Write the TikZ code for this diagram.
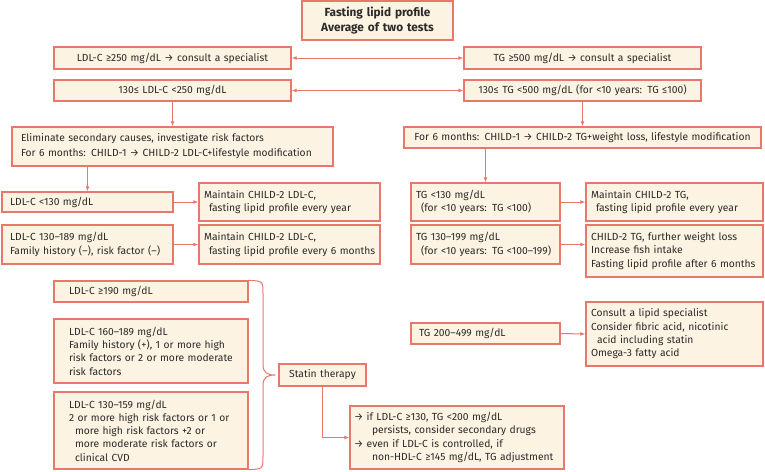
\documentclass[tikz,border=0pt]{standalone}
\usepackage{fontspec}
\setmainfont{Fira Sans}
\usetikzlibrary{arrows.meta}
\definecolor{bd}{HTML}{E9786C}
\definecolor{bg}{HTML}{FDF3E2}
\definecolor{tx}{HTML}{2A2A2A}
\newcommand{\fs}{\fontsize{10.3}{13.3}\selectfont}
\tikzset{
  box/.style={draw=bd, fill=bg, line width=1.3pt, text=tx, font=\fs, inner ysep=0pt},
  lb/.style n args={3}{box, text width=#1, minimum height=#2, inner xsep=#3, align=left},
  cb/.style n args={3}{box, text width=#1, minimum height=#2, inner xsep=#3, align=center},
  conn/.style={draw=bd, line width=1pt, -{Latex[length=5pt,width=4pt]}},
  bconn/.style={draw=bd, line width=1pt, {Latex[length=5pt,width=4pt]}-{Latex[length=5pt,width=4pt]}},
  brc/.style={draw=bd, line width=1pt}
}
\begin{document}
\begin{tikzpicture}[x=1pt,y=-1pt]
\useasboundingbox (0,0) rectangle (765,471);
\node[cb={135pt}{39pt}{8pt}, font=\fontsize{11.8}{15}\selectfont\bfseries] (top) at (377.5,20.5) {Fasting lipid profile\\Average of two tests};
\node[cb={221pt}{22pt}{8pt}] (ldlA) at (172.5,58) {LDL-C ≥250 mg/dL → consult a specialist};
\node[cb={221pt}{22pt}{8pt}] (tgA) at (582.5,58) {TG ≥500 mg/dL → consult a specialist};
\node[cb={221pt}{21pt}{8pt}] (ldlB) at (172.5,90.5) {130≤ LDL-C <250 mg/dL};
\node[cb={221pt}{21pt}{8pt}] (tgB) at (582.5,90.5) {130≤ TG <500 mg/dL (for <10 years: TG ≤100)};
\node[lb={303pt}{39pt}{9pt}, font=\fontsize{10.3}{15}\selectfont] (elim) at (172.5,146.5) {Eliminate secondary causes, investigate risk factors\\For 6 months: CHILD-1 → CHILD-2 LDL-C+lifestyle modification};
\node[cb={345pt}{21pt}{6pt}] (tgsix) at (582.5,137.5) {For 6 months: CHILD-1 → CHILD-2 TG+weight loss, lifestyle modification};
\node[lb={155pt}{20pt}{8pt}] (ldlC) at (87.5,202) {LDL-C <130 mg/dL};
\node[lb={171pt}{38pt}{5pt}] (mA) at (289.5,202) {Maintain CHILD-2 LDL-C,\\\hspace*{5pt}fasting lipid profile every year};
\node[lb={155pt}{39pt}{8pt}] (ldlD) at (87.5,244.5) {LDL-C 130–189 mg/dL\\Family history (–), risk factor (–)};
\node[lb={171pt}{39pt}{5pt}] (mB) at (289.5,244.5) {Maintain CHILD-2 LDL-C,\\\mbox{\hspace*{5pt}fasting lipid profile every 6 months}};
\node[lb={139pt}{38pt}{5pt}] (tgC) at (485.5,202) {TG <130 mg/dL\\\hspace*{5pt}(for <10 years: TG <100)};
\node[lb={167pt}{38pt}{5pt}] (mC) at (674.5,202) {Maintain CHILD-2 TG,\\\hspace*{5pt}fasting lipid profile every year};
\node[lb={139pt}{39pt}{5pt}] (tgD) at (485.5,244.5) {TG 130–199 mg/dL\\\hspace*{5pt}(for <10 years: TG <100–199)};
\node[lb={167pt}{52pt}{5pt}] (mD) at (674.5,251) {CHILD-2 TG, further weight loss\\Increase fish intake\\Fasting lipid profile after 6 months};
\node[lb={164pt}{21pt}{15pt}] (ldlE) at (151,291.5) {LDL-C ≥190 mg/dL};
\node[lb={164pt}{64pt}{15pt}] (ldlF) at (151,351) {LDL-C 160–189 mg/dL\\Family history (+), 1 or more high\\risk factors or 2 or more moderate\\risk factors};
\node[lb={164pt}{77pt}{15pt}] (ldlG) at (151,430.5) {LDL-C 130–159 mg/dL\\2 or more high risk factors or 1 or\\\hspace*{6pt}more high risk factors +2 or\\\hspace*{6pt}more moderate risk factors or\\\hspace*{6pt}clinical CVD};
\node[cb={79pt}{22pt}{4pt}] (statin) at (322.5,375) {Statin therapy};
\node[lb={206pt}{63pt}{4pt}] (sec) at (457,437.5) {→ if LDL-C ≥130, TG <200 mg/dL\\\hspace*{18pt}persists, consider secondary drugs\\→ even if LDL-C is controlled, if\\\hspace*{18pt}non-HDL-C ≥145 mg/dL, TG adjustment};
\node[lb={133pt}{21pt}{8pt}] (tgE) at (485.5,333.5) {TG 200–499 mg/dL};
\node[lb={167pt}{64pt}{5pt}] (mE) at (674.5,334) {Consult a lipid specialist\\Consider fibric acid, nicotinic\\\hspace*{6pt}acid including statin\\Omega-3 fatty acid};
% connectors
\draw[bconn] (ldlA.east) -- (tgA.west);
\draw[bconn] (ldlB.east) -- (tgB.west);
\draw[conn] (ldlB.south) -- (elim.north);
\draw[conn] (tgB.south) -- (tgsix.north);
\draw[conn] (elim.south -| ldlC.north) -- (ldlC.north);
\draw[conn] (tgsix.south -| tgC.north) -- (tgC.north);
\draw[conn] (ldlC.east) -- (mA.west);
\draw[conn] (ldlD.east) -- (mB.west);
\draw[conn] (tgC.east) -- (mC.west);
\draw[conn] (tgD.east) -- (tgD.east -| mD.west);
\draw[conn] (tgE.east) -- (mE.west);
\draw[conn] (statin.south) |- (sec.west);
% brace
\coordinate (tip) at ([xshift=-3pt]statin.west);
\draw[brc] (ldlE.north east) .. controls (263,281) .. (263,294) -- (263,364)
  .. controls (263,373) and (267,375) .. (tip)
  .. controls (267,375) and (263,377) .. (263,386) -- (263,456)
  .. controls (263,469) .. (ldlG.south east);
\end{tikzpicture}
\end{document}
